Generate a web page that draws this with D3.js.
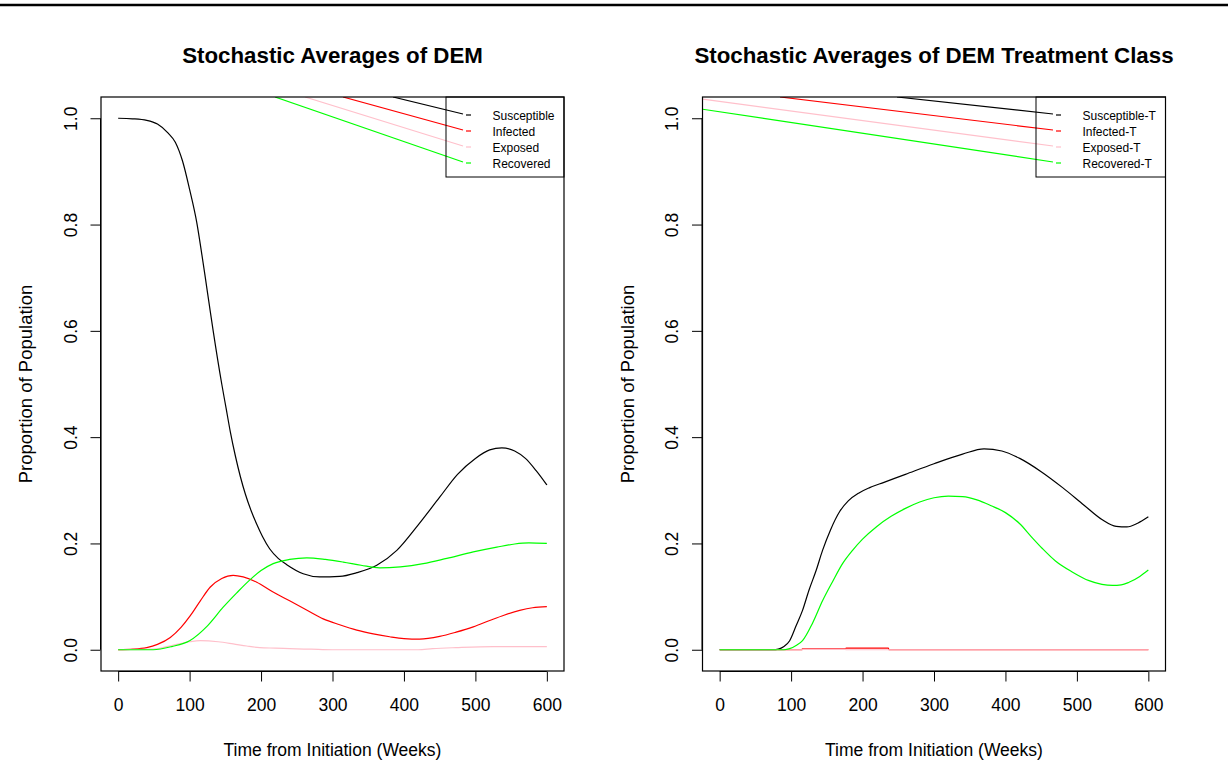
<!DOCTYPE html>
<html>
<head>
<meta charset="utf-8">
<script src="https://cdn.jsdelivr.net/npm/d3@7"></script>
<style>
  html, body { margin: 0; padding: 0; background: #fff; }
  svg { display: block; font-family: "Liberation Sans", Arial, Helvetica, sans-serif; }
</style>
</head>
<body>
<svg id="chart" width="1228" height="778"></svg>
<script>
// ---- data: weekly time points and average proportions ----
// DEM class (left panel)
const demSusceptible = [[0,1.0],[20,0.999],[40,0.996],[55,0.989],[70,0.972],[80,0.955],[90,0.92],[100,0.866],[110,0.804],[117,0.745],[122,0.7],[128,0.645],[133,0.6],[145,0.5],[151,0.455],[157,0.41],[164,0.365],[171,0.326],[178,0.293],[186,0.262],[194,0.236],[202,0.213],[212,0.19],[224,0.172],[236,0.16],[259,0.143],[282,0.137],[310,0.138],[334,0.145],[362,0.159],[390,0.187],[420,0.235],[450,0.287],[475,0.33],[500,0.36],[520,0.376],[537,0.38],[555,0.374],[570,0.36],[585,0.337],[600,0.31]];
const demInfected = [[0,0],[21,0.001],[40,0.004],[55,0.01],[73,0.023],[88,0.042],[101,0.064],[115,0.092],[129,0.118],[145,0.134],[161,0.14],[175,0.137],[194,0.127],[215,0.11],[240,0.092],[265,0.074],[287,0.058],[310,0.047],[334,0.037],[357,0.03],[380,0.0245],[400,0.021],[422,0.02],[450,0.025],[473,0.033],[497,0.043],[520,0.055],[540,0.065],[562,0.074],[580,0.079],[600,0.081]];
const demExposed = [[0,0],[49,0.001],[75,0.008],[100,0.015],[115,0.017],[140,0.015],[161,0.011],[180,0.007],[198,0.004],[220,0.003],[240,0.002],[270,0.001],[300,0],[420,0],[440,0.002],[473,0.004],[525,0.006],[600,0.006]];
const demRecovered = [[0,0],[49,0],[75,0.006],[100,0.017],[125,0.045],[147,0.08],[166,0.107],[184,0.131],[200,0.149],[217,0.162],[240,0.17],[264,0.173],[290,0.17],[315,0.165],[340,0.159],[366,0.154],[395,0.156],[427,0.162],[460,0.172],[497,0.184],[530,0.193],[555,0.199],[575,0.201],[600,0.2]];

// DEM treatment class (right panel)
const treatSusceptible = [[0,0],[75,0],[82,0.001],[90,0.006],[98,0.017],[107,0.045],[116,0.074],[125,0.112],[135,0.149],[144,0.187],[155,0.225],[168,0.26],[180,0.28],[195,0.295],[210,0.305],[230,0.315],[260,0.33],[300,0.35],[340,0.368],[370,0.378],[395,0.374],[420,0.36],[450,0.335],[480,0.305],[510,0.272],[535,0.245],[555,0.232],[570,0.231],[585,0.238],[600,0.25]];
const treatInfected = [[0,0],[115,0],[116,0.002],[176,0.002],[177,0.003],[236,0.003],[237,0],[600,0]];
const treatExposed = [[0,0],[115,0],[116,0.001],[176,0.001],[177,0],[600,0]];
const treatRecovered = [[0,0],[90,0],[98,0.002],[107,0.008],[116,0.017],[130,0.05],[144,0.092],[158,0.128],[172,0.162],[186,0.187],[200,0.208],[220,0.232],[240,0.251],[260,0.266],[280,0.278],[300,0.286],[320,0.289],[340,0.288],[360,0.282],[380,0.271],[400,0.258],[420,0.237],[436,0.213],[452,0.19],[470,0.167],[494,0.146],[517,0.13],[535,0.123],[550,0.121],[562,0.122],[573,0.127],[588,0.138],[600,0.15]];

// legend labels and series colours
const demLabels = ["Susceptible", "Infected", "Exposed", "Recovered"];
const treatLabels = ["Susceptible-T", "Infected-T", "Exposed-T", "Recovered-T"];
const seriesColors = ["#000000", "#ff0000", "#ffc0cb", "#00ff00"];

// legend key lines run in from these (time, proportion) points
const demKeyTrails = [[384.7,1.04],[314.7,1.04],[261.5,1.04],[219.5,1.04]];
const treatKeyTrails = [[248.2,1.04],[84.5,1.04],[-23.7,1.036],[-23.7,1.017]];

// axis ticks
const xTicks = [0, 100, 200, 300, 400, 500, 600];
const yTicks = [0.0, 0.2, 0.4, 0.6, 0.8, 1.0];

const panels = [
  { title: "Stochastic Averages of DEM", series: [demSusceptible, demInfected, demExposed, demRecovered], labels: demLabels, trails: demKeyTrails, left: 101, legendW: 118 },
  { title: "Stochastic Averages of DEM Treatment Class", series: [treatSusceptible, treatInfected, treatExposed, treatRecovered], labels: treatLabels, trails: treatKeyTrails, left: 702.5, legendW: 129.5 }
];

const svg = d3.select("#chart");
const boxW = 463, plotTop = 97, plotBottom = 671;

// heavy rule along the top edge
svg.append("line").attr("x1", 0).attr("x2", 1228).attr("y1", 5).attr("y2", 5)
  .attr("stroke", "#000").attr("stroke-width", 2.6);

panels.forEach((p, pi) => {
  const x = d3.scaleLinear().domain([-24, 624]).range([p.left, p.left + boxW]);
  const y = d3.scaleLinear().domain([-0.04, 1.04]).range([plotBottom, plotTop]);
  const g = svg.append("g");
  const clipId = "clip" + pi;
  svg.append("defs").append("clipPath").attr("id", clipId)
    .append("rect").attr("x", p.left).attr("y", plotTop).attr("width", boxW).attr("height", plotBottom - plotTop);

  // title
  g.append("text").attr("x", p.left + boxW / 2).attr("y", 63)
    .attr("text-anchor", "middle").attr("font-weight", "bold").attr("font-size", 22.3)
    .text(p.title);

  // x axis
  const xAxis = d3.axisBottom(x).tickValues(xTicks).tickSize(10).tickPadding(17).tickFormat(d3.format("d"));
  const xa = g.append("g").attr("transform", `translate(0,${plotBottom + 0.5})`).call(xAxis);
  xa.select(".domain").attr("d", `M${x(0)},0H${x(600)}`);
  xa.selectAll("text").attr("font-size", 17.5).attr("font-family", "Liberation Sans, Arial, sans-serif").attr("fill", "#000");
  xa.selectAll("line, path").attr("stroke", "#000");

  // y axis, labels turned to read upward
  const yAxis = d3.axisLeft(y).tickValues(yTicks).tickSize(10).tickPadding(0).tickFormat(d3.format(".1f"));
  const ya = g.append("g").attr("transform", `translate(${p.left - 0.5},0)`).call(yAxis);
  ya.select(".domain").attr("d", `M0,${y(0)}V${y(1)}`);
  ya.selectAll("line, path").attr("stroke", "#000");
  ya.selectAll(".tick text")
    .attr("font-size", 17.5).attr("font-family", "Liberation Sans, Arial, sans-serif").attr("fill", "#000")
    .attr("x", null).attr("dy", null).attr("y", null)
    .attr("text-anchor", "middle")
    .attr("transform", "translate(-30,0) rotate(-90)")
    .attr("dominant-baseline", "central");

  // axis titles
  g.append("text").attr("x", p.left + boxW / 2).attr("y", 756)
    .attr("text-anchor", "middle").attr("font-size", 17.5).text("Time from Initiation (Weeks)");
  g.append("text").attr("transform", `translate(${p.left - 69},${(plotTop + plotBottom) / 2}) rotate(-90)`)
    .attr("text-anchor", "middle").attr("font-size", 18.5).text("Proportion of Population");

  // series lines
  const line = d3.line().x(d => x(d[0])).y(d => y(d[1])).curve(d3.curveMonotoneX);
  const plot = g.append("g").attr("clip-path", `url(#${clipId})`);
  p.series.forEach((s, i) => {
    plot.append("path").datum(s).attr("d", line)
      .attr("fill", "none").attr("stroke", seriesColors[i]).attr("stroke-width", 1.2);
  });

  // legend
  const lgX = p.left + boxW - p.legendW;
  const rowY = i => 115 + i * 16;
  p.trails.forEach((t, i) => {
    plot.append("line")
      .attr("x1", x(t[0])).attr("y1", y(t[1]))
      .attr("x2", lgX + 17).attr("y2", rowY(i) - 1)
      .attr("stroke", seriesColors[i]).attr("stroke-width", 1.2);
  });
  g.append("rect").attr("x", lgX).attr("y", plotTop).attr("width", p.legendW).attr("height", 80)
    .attr("fill", "none").attr("stroke", "#000").attr("stroke-width", 1);
  p.labels.forEach((lab, i) => {
    g.append("line").attr("x1", lgX + 20).attr("x2", lgX + 25)
      .attr("y1", rowY(i)).attr("y2", rowY(i))
      .attr("stroke", seriesColors[i]).attr("stroke-width", 1.2);
    g.append("text").attr("x", lgX + 46.5).attr("y", rowY(i) + 4.5)
      .attr("font-size", 12).text(lab);
  });

  // plot frame
  g.append("rect").attr("x", p.left).attr("y", plotTop).attr("width", boxW).attr("height", plotBottom - plotTop)
    .attr("fill", "none").attr("stroke", "#000").attr("stroke-width", 1.2);
});
</script>
</body>
</html>
